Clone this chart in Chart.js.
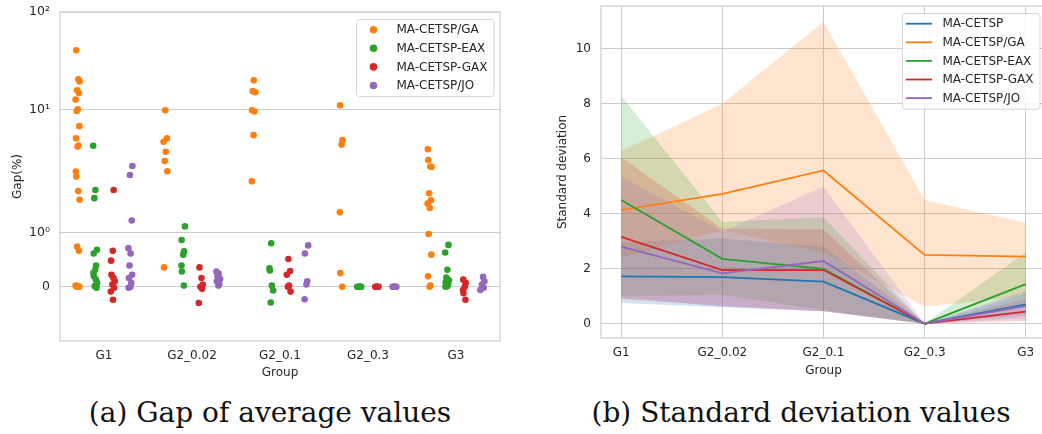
<!DOCTYPE html>
<html>
<head>
<meta charset="utf-8">
<script src="https://cdn.jsdelivr.net/npm/chart.js@4.4.0/dist/chart.umd.min.js"></script>
<style>
  html, body { margin: 0; padding: 0; background: #fff; overflow: hidden; width: 1042px; height: 434px; }
  #gap { position: absolute; left: 0; top: 0; }
  #sd { position: absolute; left: 530px; top: 0; }
  .caption {
    position: absolute; top: 398px; line-height: 30px; white-space: nowrap;
    font-family: "DejaVu Serif", serif; font-size: 28px; color: #111;
    transform: translateX(-50%);
  }
</style>
</head>
<body>
<canvas id="gap" width="510" height="390"></canvas>
<canvas id="sd" width="530" height="390"></canvas>
<div class="caption" style="left:270px">(a) Gap of average values</div>
<div class="caption" style="left:801px">(b) Standard deviation values</div>

<script>
const groups = ["G1", "G2_0.02", "G2_0.1", "G2_0.3", "G3"];

// --- (a) gap values per group
const gapGA = [
    [40.6, 20.5, 19.5, 15.8, 14.8, 12.7, 10.1, 9.7, 6.8, 5.1, 4.3, 4.2, 2.33, 2.07, 1.76, 1.6, 0.74, 0.66, 0.02, 0.01, 0, 0],
    [9.9, 5.1, 4.7, 3.72, 2.99, 2.35, 0.355],
    [20, 15.5, 15.1, 9.9, 9.6, 5.5, 1.94],
    [11.1, 4.9, 4.4, 1.37, 0.25, 0],
    [3.94, 3.06, 2.62, 2.6, 1.72, 1.59, 1.53, 1.45, 0.97, 0.59, 0.19, 0.02, 0]
];
const gapEAX = [
    [4.28, 1.78, 1.63, 0.68, 0.61, 0.39, 0.31, 0.25, 0.19, 0.13, 0.07, 0.01, -0.02],
    [1.11, 0.86, 0.65, 0.59, 0.39, 0.28, 0.02],
    [0.8, 0.34, 0.3, 0.02, -0.07, -0.29],
    [0, 0, 0, 0, 0],
    [0.77, 0.63, 0.31, 0.17, 0.12, 0.08, 0.04, 0.01, 0]
];
const gapGAX = [
    [1.78, 0.66, 0.48, 0.22, 0.16, 0.1, 0.04, -0.02, -0.09, -0.24],
    [0.355, 0.16, 0.04, 0, -0.04, -0.3],
    [0.51, 0.29, 0.22, 0.02, 0, -0.09],
    [0, 0, 0, 0, 0],
    [0.13, 0.07, 0, -0.06, -0.12, -0.24]
];
const gapJO = [
    [2.66, 2.15, 1.22, 0.71, 0.61, 0.39, 0.22, 0.16, 0.07, 0, -0.02],
    [0.28, 0.24, 0.19, 0.14, 0.1, 0.05, 0.02],
    [0.76, 0.61, 0.1, 0.04, -0.23],
    [0, 0, 0, 0, 0],
    [0.18, 0.1, 0.04, -0.02, -0.06]
];
const gapTicks = [0, 1, 10, 100];
const gapTickLabels = ["0", "10\u2070", "10\u00b9", "10\u00b2"];

// --- (b) standard deviation: mean line and band per algorithm
const sdCETSP   = [1.72, 1.69, 1.53, 0, 0.7];
const sdCETSPLo = [0.75, 0.6, 0.45, 0, 0.3];
const sdCETSPHi = [2.95, 3.1, 2.8, 0, 1.1];
const sdGA      = [4.13, 4.72, 5.57, 2.5, 2.44];
const sdGALo    = [2.4, 3.4, 2.6, 0.62, 1.0];
const sdGAHi    = [6.28, 8.0, 10.98, 4.5, 3.67];
const sdEAX     = [4.5, 2.36, 1.99, 0, 1.44];
const sdEAXLo   = [1.0, 1.05, 0.5, 0, 0.6];
const sdEAXHi   = [8.28, 3.7, 3.87, 0, 2.6];
const sdGAX     = [3.16, 1.95, 1.95, 0, 0.44];
const sdGAXLo   = [0.9, 0.65, 0.45, 0, 0.1];
const sdGAXHi   = [6.05, 3.45, 3.43, 0, 0.9];
const sdJO      = [2.8, 1.83, 2.28, 0, 0.65];
const sdJOLo    = [0.95, 0.62, 0.45, 0, 0.2];
const sdJOHi    = [5.35, 3.35, 4.98, 0, 1.2];

const BLUE = "#1f77b4", ORANGE = "#ff7f0e", GREEN = "#2ca02c", RED = "#d62728", PURPLE = "#9467bd";
const TEXT = "#262626", GRID = "#cccccc";
const FONT = { family: "DejaVu Sans", size: 12 };

/* symlog like matplotlib, linthresh 2, linscale 1 */
const LINTHRESH = 2, LINSCALE = 1 / (1 - 1 / 10);
function symlog(v) {
    const a = Math.abs(v);
    if (a <= LINTHRESH) return v * LINSCALE;
    return Math.sign(v) * LINTHRESH * (LINSCALE + Math.log10(a / LINTHRESH));
}

function rgba(hex, a) {
    const n = parseInt(hex.slice(1), 16);
    return `rgba(${n >> 16},${(n >> 8) & 255},${n & 255},${a})`;
}

/* ------------------------------
   legend drawn inside the axes
-------------------------------*/
const insideLegend = {
    id: "insideLegend",
    afterDraw(chart, args, opts) {
        if (!opts.items) return;
        const { ctx, chartArea } = chart;
        ctx.save();
        ctx.font = '12px "DejaVu Sans"';
        const tw = Math.max(...opts.items.map(it => ctx.measureText(it.label).width));
        const w = 40.5 + tw + 6;
        const h = 21.4 + (opts.items.length - 1) * 18.6;
        const x0 = chartArea.right - 6.5 - w;
        const y0 = chartArea.top + 7;
        ctx.beginPath();
        ctx.roundRect(x0 + 0.5, y0 + 0.5, w, h, 3);
        ctx.fillStyle = "rgba(255,255,255,0.8)";
        ctx.fill();
        ctx.strokeStyle = "#d6d6d6";
        ctx.lineWidth = 1;
        ctx.stroke();
        opts.items.forEach((it, i) => {
            const y = y0 + 10.7 + i * 18.6;
            if (opts.marker === "circle") {
                ctx.beginPath();
                ctx.arc(x0 + 17.5, y, 3.8, 0, Math.PI * 2);
                ctx.fillStyle = it.color;
                ctx.fill();
            } else {
                ctx.beginPath();
                ctx.moveTo(x0 + 4, y);
                ctx.lineTo(x0 + 30, y);
                ctx.strokeStyle = it.color;
                ctx.lineWidth = 1.8;
                ctx.stroke();
            }
            ctx.fillStyle = TEXT;
            ctx.textBaseline = "middle";
            ctx.fillText(it.label, x0 + 40.5, y + 0.5);
        });
        ctx.restore();
    }
};

const frame = {
    id: "frame",
    beforeDatasetsDraw(chart) {
        const { ctx, chartArea: a } = chart;
        ctx.save();
        ctx.strokeStyle = GRID;
        ctx.lineWidth = 1.2;
        ctx.strokeRect(a.left, a.top, a.right - a.left, a.bottom - a.top);
        ctx.restore();
    }
};

function noPad(s) {
    s.paddingLeft = 0; s.paddingRight = 0; s.paddingTop = 0; s.paddingBottom = 0;
}

/* ------------------------------
   (a) strip plot
-------------------------------*/
const jitterPattern = [-0.6, 0.3, 0.9, -0.2, 0.6, -0.9, 0.1, -0.4, 0.8, -0.7, 0.4, 0.0, -0.8];

function stripData(vals, hue) {
    const off = -0.3 + hue * 0.2;
    const pts = [];
    vals.forEach((list, gi) => {
        list.forEach((v, i) => {
            const j = jitterPattern[(i + gi * 3 + hue * 5) % jitterPattern.length] * 0.025;
            pts.push({ x: gi + off + j, y: symlog(v) });
        });
    });
    return pts;
}

const stripSeries = [
    { label: "MA-CETSP/GA", vals: gapGA, color: ORANGE },
    { label: "MA-CETSP-EAX", vals: gapEAX, color: GREEN },
    { label: "MA-CETSP-GAX", vals: gapGAX, color: RED },
    { label: "MA-CETSP/JO", vals: gapJO, color: PURPLE }
];

new Chart(document.getElementById("gap"), {
    type: "scatter",
    data: {
        datasets: stripSeries.map((s, h) => ({
            label: s.label,
            data: stripData(s.vals, h),
            backgroundColor: s.color,
            borderWidth: 0,
            pointRadius: 3.3,
            pointHoverRadius: 3.3
        })).reverse()
    },
    options: {
        responsive: false,
        animation: false,
        events: [],
        layout: { padding: { top: 12, right: 10, left: 0, bottom: 0 } },
        plugins: {
            legend: { display: false },
            tooltip: { enabled: false },
            insideLegend: {
                marker: "circle",
                items: stripSeries.map(s => ({ label: s.label, color: s.color }))
            }
        },
        scales: {
            x: {
                type: "linear", min: -0.5, max: 4.5,
                afterBuildTicks: s => { s.ticks = groups.map((g, i) => ({ value: i })); },
                afterFit: s => { s.height = 49; noPad(s); },
                ticks: { callback: v => groups[v], font: FONT, color: TEXT, padding: 7.5, maxRotation: 0, autoSkip: false },
                grid: { display: false, drawTicks: false },
                border: { display: false },
                title: { display: true, text: "Group", font: FONT, color: TEXT, padding: { top: 0, bottom: 10 } }
            },
            y: {
                type: "linear", min: symlog(-1), max: symlog(100),
                afterBuildTicks: s => { s.ticks = gapTicks.map(v => ({ value: symlog(v) })); },
                afterFit: s => { s.width = 60; noPad(s); },
                ticks: { callback: (v, i) => gapTickLabels[i], font: { family: "DejaVu Sans", size: 12.5 }, color: TEXT, padding: 10 },
                grid: { color: GRID, lineWidth: 1, drawTicks: false },
                border: { display: false },
                title: { display: true, text: "Gap(%)", font: FONT, color: TEXT, padding: { top: 10.3, bottom: 0 } }
            }
        }
    },
    plugins: [frame, insideLegend]
});

/* ------------------------------
   (b) std deviation with bands
-------------------------------*/
const sdSeries = [
    { label: "MA-CETSP", mean: sdCETSP, lo: sdCETSPLo, hi: sdCETSPHi, color: BLUE },
    { label: "MA-CETSP/GA", mean: sdGA, lo: sdGALo, hi: sdGAHi, color: ORANGE },
    { label: "MA-CETSP-EAX", mean: sdEAX, lo: sdEAXLo, hi: sdEAXHi, color: GREEN },
    { label: "MA-CETSP-GAX", mean: sdGAX, lo: sdGAXLo, hi: sdGAXHi, color: RED },
    { label: "MA-CETSP/JO", mean: sdJO, lo: sdJOLo, hi: sdJOHi, color: PURPLE }
];

const toXY = arr => arr.map((v, i) => ({ x: i, y: v }));

// lines first (index 0 is drawn on top), then bands; the filler paints
// from the last index down, so blue band ends up at the bottom
const lineSets = sdSeries.map(s => ({
    label: s.label,
    data: toXY(s.mean),
    borderColor: s.color,
    borderWidth: 1.8,
    pointRadius: 0,
    fill: false,
    tension: 0
})).reverse();

const bandSets = [];
sdSeries.slice().reverse().forEach(s => {
    bandSets.push({ data: toXY(s.hi), borderColor: "transparent", borderWidth: 0, pointRadius: 0, fill: false });
    bandSets.push({ data: toXY(s.lo), borderColor: "transparent", borderWidth: 0, pointRadius: 0, fill: "-1", backgroundColor: rgba(s.color, 0.2) });
});

new Chart(document.getElementById("sd"), {
    type: "line",
    data: { datasets: lineSets.concat(bandSets) },
    options: {
        responsive: false,
        animation: false,
        events: [],
        layout: { padding: { top: 6, right: 14, left: 0, bottom: 0 } },
        plugins: {
            legend: { display: false },
            tooltip: { enabled: false },
            filler: { drawTime: "beforeDatasetsDraw", propagate: false },
            insideLegend: {
                marker: "line",
                items: sdSeries.map(s => ({ label: s.label, color: s.color }))
            }
        },
        scales: {
            x: {
                type: "linear", min: -0.2, max: 4.2,
                afterBuildTicks: s => { s.ticks = groups.map((g, i) => ({ value: i })); },
                afterFit: s => { s.height = 52; noPad(s); },
                ticks: { callback: v => groups[v], font: FONT, color: TEXT, padding: 7.5, maxRotation: 0, autoSkip: false },
                grid: { color: GRID, lineWidth: 1, drawTicks: false },
                border: { display: false },
                title: { display: true, text: "Group", font: FONT, color: TEXT, padding: { top: 0, bottom: 11.8 } }
            },
            y: {
                type: "linear", min: -0.52, max: 11.55,
                afterBuildTicks: s => { s.ticks = [0, 2, 4, 6, 8, 10].map(v => ({ value: v })); },
                afterFit: s => { s.width = 71; noPad(s); },
                ticks: { font: FONT, color: TEXT, padding: 10 },
                grid: { color: GRID, lineWidth: 1, drawTicks: false },
                border: { display: false },
                title: { display: true, text: "Standard deviation", font: FONT, color: TEXT, padding: { top: 25.8, bottom: 0 } }
            }
        }
    },
    plugins: [frame, insideLegend]
});
</script>
</body>
</html>
